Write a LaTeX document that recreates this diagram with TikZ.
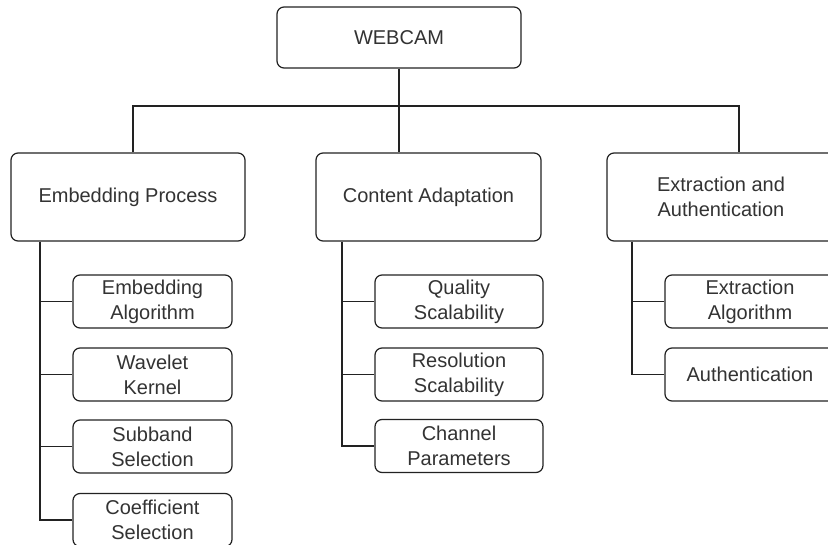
\documentclass[tikz,border=0pt]{standalone}
\usepackage{fontspec}
\setmainfont{Liberation Sans}
\definecolor{ink}{HTML}{222222}
\definecolor{txt}{HTML}{333333}
\tikzset{
  box/.style={draw=ink, line width=1.2pt, rounded corners=7pt, rectangle,
    inner sep=0pt, align=center, text=txt,
    font=\fontsize{20}{25}\selectfont},
  link/.style={draw=ink, line width=1.2pt}
}
\begin{document}
\begin{tikzpicture}[x=1pt,y=-1pt]
\clip (0,0) rectangle (828,545);
\fill[white] (0,0) rectangle (828,545);

% root
\node[box, minimum width=244pt, minimum height=61pt] (webcam) at (399,37.5) {WEBCAM};

% second level
\node[box, minimum width=234pt, minimum height=88pt] (emb) at (128,197) {Embedding Process};
\node[box, minimum width=225pt, minimum height=88pt] (con) at (428.5,197) {Content Adaptation};
\node[box, minimum width=228pt, minimum height=88pt] (ext) at (721,197) {Extraction and\\Authentication};

% embedding children
\node[box, minimum width=159pt, minimum height=53pt] (e1) at (152.5,301.5) {Embedding\\Algorithm};
\node[box, minimum width=159pt, minimum height=53pt] (e2) at (152.5,374.5) {Wavelet\\Kernel};
\node[box, minimum width=159pt, minimum height=53pt] (e3) at (152.5,446.5) {Subband\\Selection};
\node[box, minimum width=159pt, minimum height=53pt] (e4) at (152.5,520) {Coefficient\\Selection};

% content adaptation children
\node[box, minimum width=168pt, minimum height=53pt] (c1) at (459,301.5) {Quality\\Scalability};
\node[box, minimum width=168pt, minimum height=53pt] (c2) at (459,374.5) {Resolution\\Scalability};
\node[box, minimum width=168pt, minimum height=53pt] (c3) at (459,446) {Channel\\Parameters};

% extraction children
\node[box, minimum width=170pt, minimum height=53pt] (x1) at (750,301.5) {Extraction\\Algorithm};
\node[box, minimum width=170pt, minimum height=53pt] (x2) at (750,374.5) {Authentication};

% bus under the root
\coordinate (sL) at (133,106);
\coordinate (sR) at (739,106);
\draw[link] (webcam.south) -- (con.north -| webcam.south);
\draw[link] (emb.north -| sL) -- (sL) -- (sR) -- (ext.north -| sR);

% trunks to the children
\coordinate (tE) at (40,0);
\coordinate (tC) at (342,0);
\coordinate (tX) at (632,0);
\draw[link] (emb.south -| tE) |- (e4.west);
\draw[link] (tE |- e1.west) -- (e1.west);
\draw[link] (tE |- e2.west) -- (e2.west);
\draw[link] (tE |- e3.west) -- (e3.west);

\draw[link] (con.south -| tC) |- (c3.west);
\draw[link] (tC |- c1.west) -- (c1.west);
\draw[link] (tC |- c2.west) -- (c2.west);

\draw[link] (ext.south -| tX) |- (x2.west);
\draw[link] (tX |- x1.west) -- (x1.west);
\end{tikzpicture}
\end{document}
